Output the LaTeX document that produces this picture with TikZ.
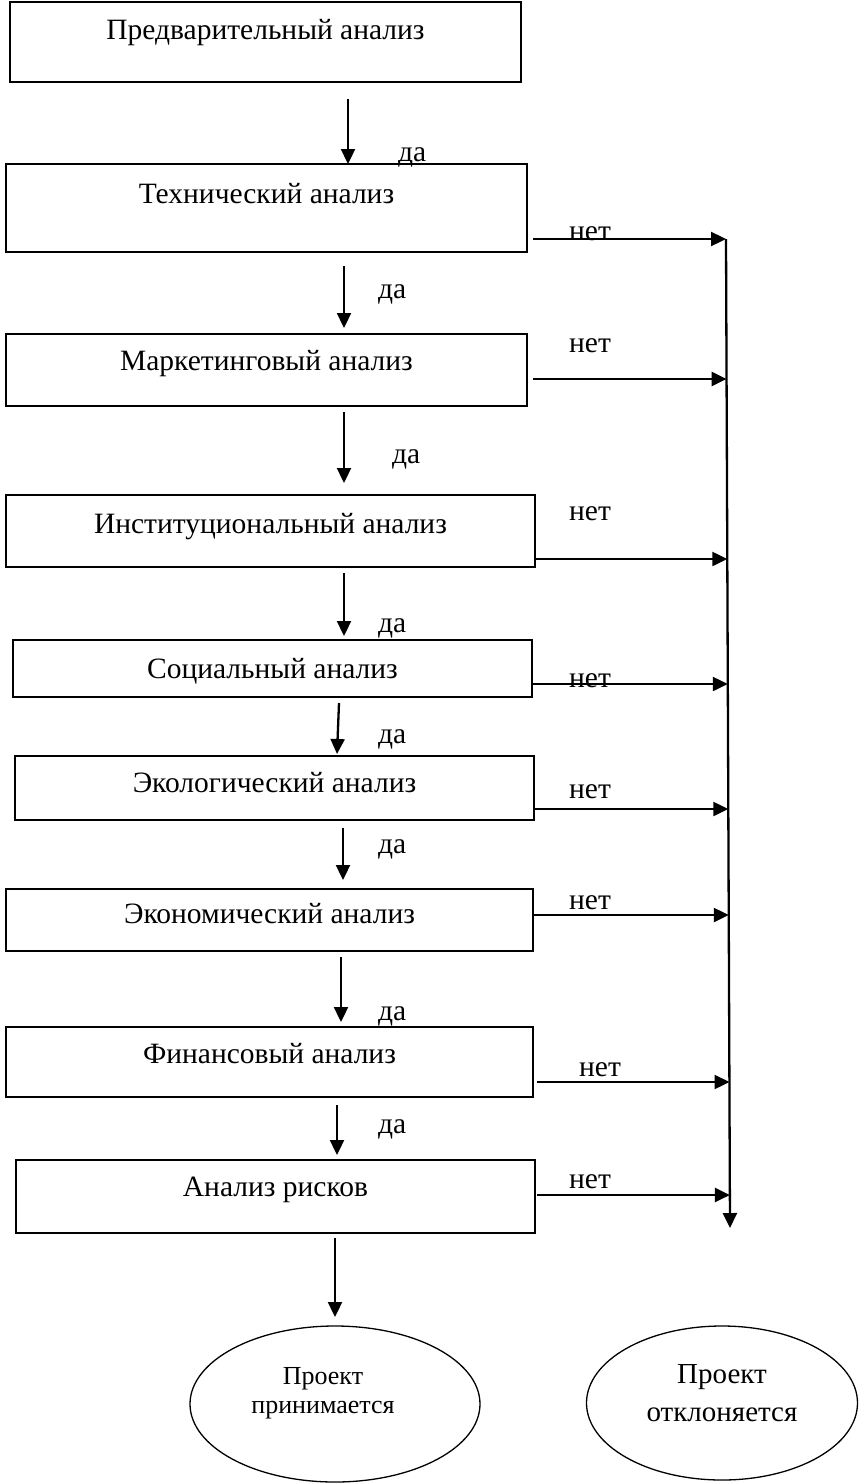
\documentclass[tikz,border=0pt]{standalone}
\usepackage{fontspec}
\setmainfont{Liberation Serif}
\usetikzlibrary{arrows.meta,shapes.geometric}

\begin{document}
\begin{tikzpicture}[x=1pt, y=-1pt,
  box/.style={draw, line width=1.8pt, anchor=north west, inner sep=0pt, outer sep=0pt, font=\fontsize{29.5}{34}\selectfont},
  arr/.style={line width=2.3pt, -{Triangle[length=15pt,width=14pt]}},
  lbl/.style={font=\fontsize{29.5}{34}\selectfont, inner sep=0pt},
  oval/.style={draw, ellipse, line width=1.3pt, inner sep=0pt, outer sep=0pt}]
  \useasboundingbox (0,0) rectangle (859,1483);

  \node[box, minimum width=511pt, text height=37pt, text depth=43pt] (pre) at (10,2) {Предварительный анализ};
  \node[box, minimum width=521pt, text height=39pt, text depth=49pt] (tech) at (6,164) {Технический анализ};
  \node[box, minimum width=521pt, text height=36pt, text depth=36pt] (mark) at (6,334) {Маркетинговый анализ};
  \node[box, minimum width=529pt, text height=38pt, text depth=34pt] (inst) at (6,495) {Институциональный анализ};
  \node[box, minimum width=519pt, text height=38pt, text depth=19pt] (soc) at (13,640) {Социальный анализ};
  \node[box, minimum width=519pt, text height=36pt, text depth=28pt] (eco) at (15,756) {Экологический анализ};
  \node[box, minimum width=527pt, text height=34pt, text depth=28pt] (econ) at (6,889) {Экономический анализ};
  \node[box, minimum width=527pt, text height=36pt, text depth=34pt] (fin) at (6,1027) {Финансовый анализ};
  \node[box, minimum width=519pt, text height=36pt, text depth=37pt] (risk) at (16,1160) {Анализ рисков};

  \node[oval, minimum width=290pt, minimum height=156pt] (accept) at (335,1404) {};
  \node[lbl, align=center, font=\fontsize{26}{29}\selectfont] (accepttext) at ([xshift=-12pt,yshift=11pt]accept.center) {Проект\\принимается};
  \node[oval, minimum width=271pt, minimum height=154pt] (reject) at (722,1403) {};
  \node[lbl, align=center, font=\fontsize{29}{38}\selectfont] (rejecttext) at ([yshift=10pt]reject.center) {Проект\\отклоняется};

  \draw[arr] ([xshift=82.5pt,yshift=-17pt]pre.south) -- ([xshift=81.5pt]tech.north);
  \draw[arr] ([xshift=77.5pt,yshift=-14pt]tech.south) -- ([xshift=77.5pt,yshift=6pt]mark.north);
  \draw[arr] ([xshift=77.5pt,yshift=-6pt]mark.south) -- ([xshift=73.5pt,yshift=12pt]inst.north);
  \draw[arr] ([xshift=73.5pt,yshift=-6pt]inst.south) -- ([xshift=71.5pt,yshift=4pt]soc.north);
  \draw[arr] ([xshift=66.5pt,yshift=-6pt]soc.south) -- ([xshift=62.5pt,yshift=2pt]eco.north);
  \draw[arr] ([xshift=68.5pt,yshift=-8pt]eco.south) -- ([xshift=73.5pt,yshift=9pt]econ.north);
  \draw[arr] ([xshift=71.5pt,yshift=-6pt]econ.south) -- ([xshift=71.5pt,yshift=5pt]fin.north);
  \draw[arr] ([xshift=67.5pt,yshift=-8pt]fin.south) -- ([xshift=61.5pt,yshift=5pt]risk.north);
  \draw[arr] ([xshift=59.5pt,yshift=-5pt]risk.south) -- ([yshift=9pt]accept.north);

  \node[lbl, anchor=base west] (yes1) at (398,161) {да};
  \node[lbl, anchor=base west] (yes2) at (378,298) {да};
  \node[lbl, anchor=base west] (yes3) at (392,463) {да};
  \node[lbl, anchor=base west] (yes4) at (378,632) {да};
  \node[lbl, anchor=base west] (yes5) at (378,743) {да};
  \node[lbl, anchor=base west] (yes6) at (378,853) {да};
  \node[lbl, anchor=base west] (yes7) at (378,1020) {да};
  \node[lbl, anchor=base west] (yes8) at (378,1133) {да};

  \coordinate (r1) at (726,239);
  \coordinate (r2) at (726.6,379);
  \coordinate (r3) at (727.3,559);
  \coordinate (r4) at (727.8,684);
  \coordinate (r5) at (728.3,809);
  \coordinate (r6) at (728.8,915);
  \coordinate (r7) at (729.5,1082);
  \coordinate (r8) at (729.9,1195);
  \coordinate (rend) at (730,1228);
  \draw[arr] (r1) -- (rend);

  \draw[arr] ([xshift=6pt]tech.east |- r1) -- (r1);
  \draw[arr] ([xshift=6pt]mark.east |- r2) -- (r2);
  \draw[arr] (inst.east |- r3) -- (r3);
  \draw[arr] (soc.east |- r4) -- (r4);
  \draw[arr] (eco.east |- r5) -- (r5);
  \draw[arr] (econ.east |- r6) -- (r6);
  \draw[arr] ([xshift=4pt]fin.east |- r7) -- (r7);
  \draw[arr] ([xshift=2pt]risk.east |- r8) -- (r8);

  \node[lbl, anchor=base] (no1) at (590,240) {нет};
  \node[lbl, anchor=base] (no2) at (590,352) {нет};
  \node[lbl, anchor=base] (no3) at (590,520) {нет};
  \node[lbl, anchor=base] (no4) at (590,687) {нет};
  \node[lbl, anchor=base] (no5) at (590,798) {нет};
  \node[lbl, anchor=base] (no6) at (590,909) {нет};
  \node[lbl, anchor=base] (no7) at (600,1076) {нет};
  \node[lbl, anchor=base] (no8) at (590,1188) {нет};
\end{tikzpicture}
\end{document}
